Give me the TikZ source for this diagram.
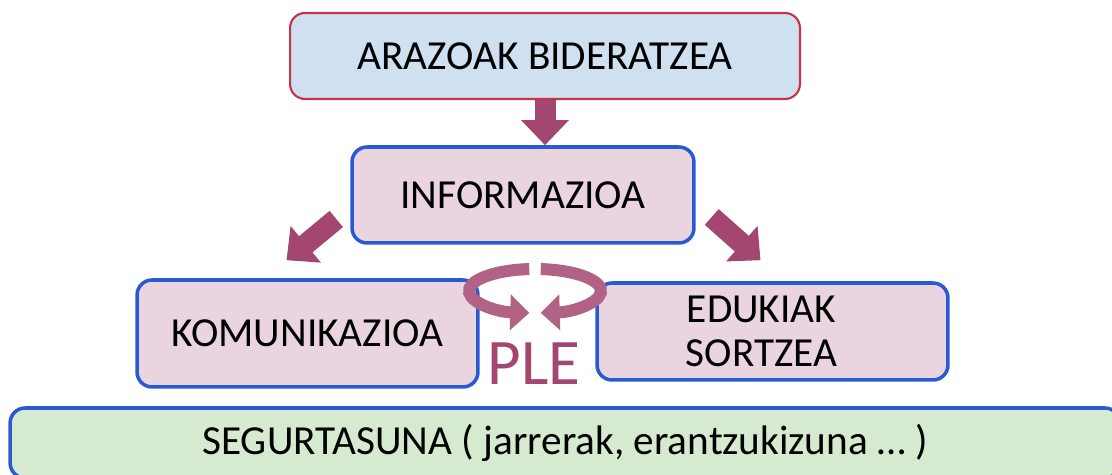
\documentclass[tikz,border=0pt]{standalone}
\usepackage{fontspec}
\setmainfont{Carlito}
\usetikzlibrary{arrows.meta,calc}

\definecolor{boxblue}{RGB}{207,224,241}
\definecolor{boxpink}{RGB}{233,212,224}
\definecolor{boxgreen}{RGB}{214,234,208}
\definecolor{edgeblue}{RGB}{40,90,210}
\definecolor{edgered}{RGB}{200,50,70}
\definecolor{plum}{RGB}{163,70,112}

\tikzset{
    box/.style={draw=edgeblue, line width=2pt, fill=boxpink, rounded corners=0.3cm,
        align=center, font=\fontsize{23.5}{25}\selectfont},
    fatarrow/.style={plum, line width=0.42cm, -{Triangle[length=0.5cm,width=0.92cm]}},
    ringarrow/.style={plum!85!white, line width=0.24cm, -{Triangle[length=0.38cm,width=0.7cm]}}
}

\begin{document}
\begin{tikzpicture}[x=0.02cm, y=0.02cm]
        \useasboundingbox (0, 0) rectangle (1112, 475);
        \clip (0, 0) rectangle (1112, 475);

        \draw node[box, draw=edgered, line width=1.2pt, fill=boxblue,
                minimum width=10.2cm, minimum height=1.72cm] (arazo) at (545, 419) {ARAZOAK BIDERATZEA}
            node[box, minimum width=6.84cm, minimum height=1.92cm] (info) at (523, 280) {INFORMAZIOA}
            node[box, minimum width=6.82cm, minimum height=2.14cm] (komun) at (307.5, 141.5) {KOMUNIKAZIOA}
            node[box, minimum width=7.02cm, minimum height=1.94cm] (eduki) at (772.5, 143.5)
                {EDUKIAK\hspace*{0.44cm}\\SORTZEA\hspace*{0.44cm}}
            node[box, fill=boxgreen, minimum width=22.2cm, minimum height=1.4cm] (segur) at (565, 32)
                {SEGURTASUNA ( jarrerak, erantzukizuna … )}
            node[text=plum, font=\fontsize{37}{37}\selectfont] (ple) at (534, 111) {PLE}
            coordinate (ring) at (535, 184);

        % \foreach \x in {0, 100, ..., 1100}
        %     \draw[gray!30] (\x, 0) -- (\x, 475);

        \draw[fatarrow] (arazo.south) -- (arazo.south |- info.north);
        \draw[fatarrow] ($(info.west)+(-14,-24)$) -- ($(komun.north)+(-21,18)$);
        \draw[fatarrow] ($(info.east)+(16,-22)$) -- ($(eduki.north)+(-12,21)$);

        \draw[ringarrow] ($(ring)+(95:66 and 22)$) arc[start angle=95, end angle=265, x radius=66, y radius=22];
        \draw[ringarrow] ($(ring)+(85:66 and 22)$) arc[start angle=85, end angle=-85, x radius=66, y radius=22];
    \end{tikzpicture}
\end{document}
